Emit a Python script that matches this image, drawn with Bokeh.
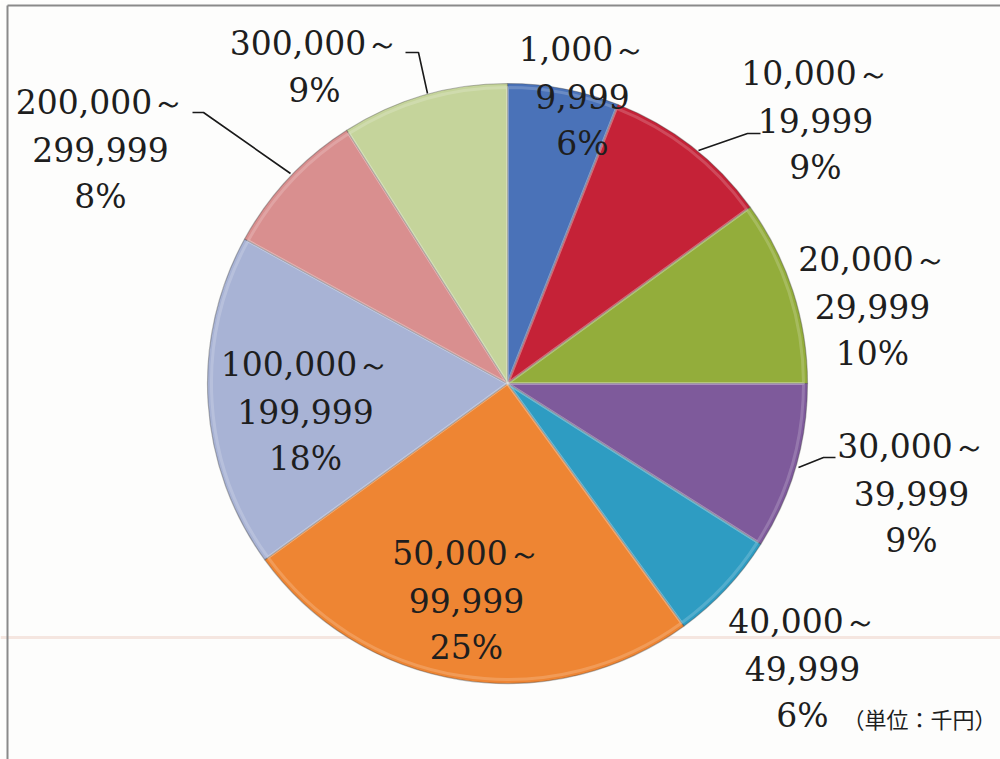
import math
from bokeh.plotting import figure
from bokeh.models import Range1d, ColumnDataSource
from bokeh.core.properties import value
from bokeh.embed import file_html
from bokeh.resources import INLINE

# ---- data ----
range_low = ["1,000", "10,000", "20,000", "30,000", "40,000",
             "50,000", "100,000", "200,000", "300,000"]
range_high = ["9,999", "19,999", "29,999", "39,999", "49,999",
              "99,999", "199,999", "299,999", ""]
percent = [6, 9, 10, 9, 6, 25, 18, 8, 9]
colors = ["#4a72b8", "#c52237", "#93ad3b", "#7e5a9b", "#2e9cc2",
          "#ee8533", "#a8b3d5", "#d98f8f", "#c5d49b"]
unit_label = "（単位：千円）"

# ---- layout (pixel space, y measured from top) ----
W, H = 1000, 759
CX, CY, R = 507, 383, 300
label_pos = [(582, 49), (815, 73), (872, 259), (911, 446), (802, 621),
             (466, 553), (305, 364), (100, 102), (314, 43)]
LINE_GAP = 47
leaders = {1: [(698, 150), (747, 133), (760, 133)],
           3: [(798, 467), (823, 457), (835, 457)],
           7: [(192, 112), (203, 112), (290, 173)],
           8: [(405, 52), (418, 52), (427, 93)]}

def fy(y):
    return H - y

p = figure(width=W, height=H, output_backend="svg", toolbar_location=None,
           x_range=Range1d(0, W), y_range=Range1d(0, H),
           x_axis_type=None, y_axis_type=None, min_border=0)
p.grid.visible = False
p.outline_line_color = None
p.background_fill_color = "#fdfdfc"
p.border_fill_color = "#fdfdfc"

# faint scan line behind the pie
p.line([0, W], [fy(637), fy(637)], line_color="#f5e6e0", line_width=3)

# frame (left and top)
p.line([7, 7], [fy(5), 0], line_color="#8a8a8a", line_width=2)
p.line([7, W], [fy(5), fy(5)], line_color="#8a8a8a", line_width=2)

# wedges
total = sum(percent)
starts, ends = [], []
cum = 0
for v in percent:
    a0 = math.pi / 2 - 2 * math.pi * cum / total
    cum += v
    a1 = math.pi / 2 - 2 * math.pi * cum / total
    starts.append(a0)
    ends.append(a1)
src = ColumnDataSource(dict(start=starts, end=ends, color=colors))
p.wedge(x=CX, y=fy(CY), radius=R, start_angle="start", end_angle="end",
        direction="clock", fill_color="color", line_color="#3a3a3a",
        line_alpha=0.35, line_width=1.2, source=src)
# soft bevel highlight on the rim
p.wedge(x=CX, y=fy(CY), radius=R - 4, start_angle="start", end_angle="end",
        direction="clock", fill_alpha=0, line_color="white",
        line_alpha=0.18, line_width=3, source=src)

# leader lines
for i, pts in leaders.items():
    p.line([q[0] for q in pts], [fy(q[1]) for q in pts],
           line_color="#1a1a1a", line_width=1.6)

# labels
xs, ys, texts = [], [], []
for i in range(len(percent)):
    lines = [range_low[i] + "～"]
    if range_high[i]:
        lines.append(range_high[i])
    lines.append(f"{percent[i]}%")
    lx, ly = label_pos[i]
    for k, t in enumerate(lines):
        xs.append(lx)
        ys.append(fy(ly + k * LINE_GAP))
        texts.append(t)
p.text(x=xs, y=ys, text=texts, text_align="center", text_baseline="middle",
       text_font=value("DejaVu Serif"), text_font_size="33px",
       text_color="#1e1e1e")

p.text(x=[996], y=[fy(717)], text=[unit_label], text_align="right",
       text_baseline="middle", text_font=value("Noto Sans CJK JP"),
       text_font_size="22px", text_color="#1e1e1e")

open("out.html", "w").write(file_html(p, INLINE))
